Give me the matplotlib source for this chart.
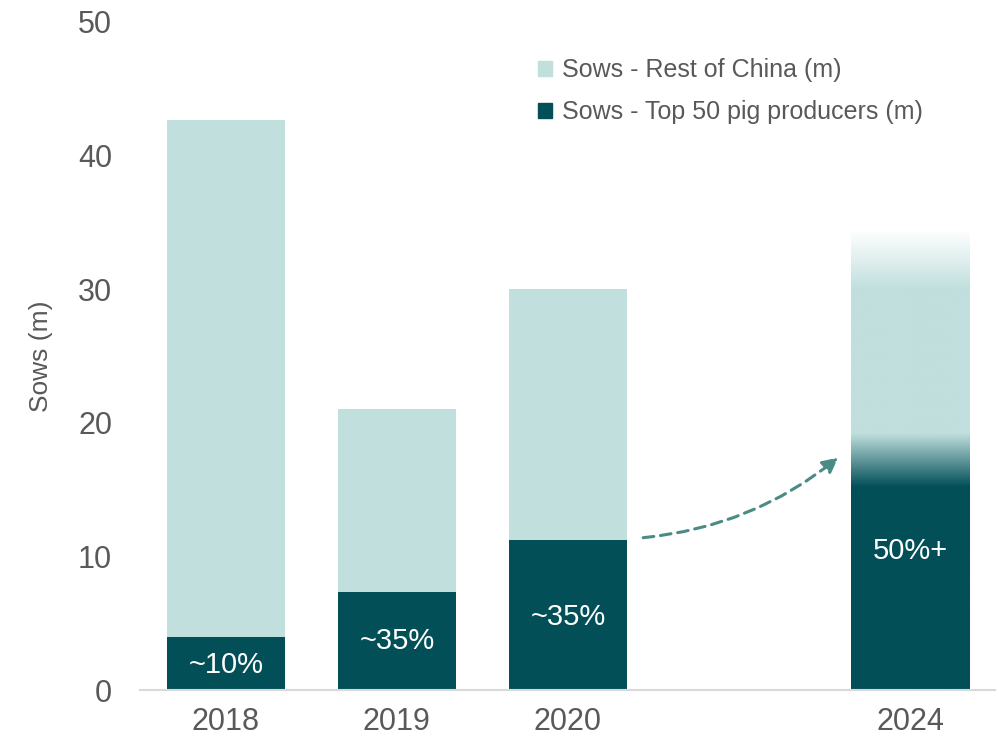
import numpy as np
import matplotlib.pyplot as plt
from matplotlib.colors import to_rgb
from matplotlib.patches import Patch

plt.rcParams['font.family'] = ['Liberation Sans', 'DejaVu Sans']

# sow numbers in millions
years = ['2018', '2019', '2020', '2024']
x_pos = [0, 1, 2, 4]
top50 = [4.0, 7.3, 11.2, 17.2]
total = [42.7, 21.0, 30.0, 34.4]
share_labels = ['~10%', '~35%', '~35%', '50%+']
label_y = [1.9, 3.7, 5.5, 10.4]

dark = '#024F58'
light = '#C0DFDD'
grey = '#595959'
arrow_col = '#4A8C85'
width = 0.69

fig = plt.figure(figsize=(9.99, 7.45), dpi=100)
ax = fig.add_axes([0.140, 0.0738, 0.856, 0.8967])

# solid stacked bars for the actual years
for i in range(3):
    ax.bar(x_pos[i], top50[i], width=width, color=dark)
    ax.bar(x_pos[i], total[i] - top50[i], bottom=top50[i], width=width, color=light)

# forecast bar drawn as a vertical gradient image
xc, t50, tot = x_pos[3], top50[3], total[3]
ys = np.linspace(0, tot, 600)
d = np.array(to_rgb(dark))
l = np.array(to_rgb(light))
mix = np.clip((ys - (t50 - 2.0)) / 4.0, 0, 1)
rgb = d[None, :] * (1 - mix[:, None]) + l[None, :] * mix[:, None]
alpha = np.clip((tot - ys) / (tot - 30.0), 0, 1)
img = np.concatenate([rgb, alpha[:, None]], axis=1)[:, None, :]
ax.imshow(img, extent=(xc - width / 2, xc + width / 2, 0, tot),
          origin='lower', aspect='auto', interpolation='bilinear', zorder=2)

for xi, lab, ly in zip(x_pos, share_labels, label_y):
    ax.text(xi, ly, lab, ha='center', va='center', color='white', fontsize=21, zorder=3)

# dashed arrow towards 2024
ax.annotate('', xy=(3.58, 17.4), xytext=(2.44, 11.4),
            arrowprops=dict(arrowstyle='-|>,head_length=0.9,head_width=0.45',
                            connectionstyle='arc3,rad=0.15', color=arrow_col,
                            lw=2.2, linestyle=(0, (3.5, 2.2)), shrinkA=0, shrinkB=0))

ax.set_xlim(-0.503, 4.497)
ax.set_ylim(0, 50)
ax.set_xticks(x_pos)
ax.set_xticklabels(years)
ax.set_yticks(range(0, 51, 10))
ax.tick_params(length=0, labelsize=22, colors=grey, pad=12)
ax.tick_params(axis='y', pad=20)
ax.set_ylabel('Sows (m)', fontsize=19, color=grey, labelpad=18)

for s in ['top', 'right', 'left']:
    ax.spines[s].set_visible(False)
ax.spines['bottom'].set_color('#D9D9D9')
ax.spines['bottom'].set_linewidth(1.5)

handles = [Patch(color=light), Patch(color=dark)]
ax.legend(handles, ['Sows - Rest of China (m)', 'Sows - Top 50 pig producers (m)'],
          loc='upper left', bbox_to_anchor=(0.516, 0.952), bbox_transform=fig.transFigure,
          frameon=False, fontsize=18, labelcolor=grey, handlelength=0.55, handleheight=0.55,
          handletextpad=0.4, labelspacing=0.72)

fig.savefig('out.png', dpi=100)
